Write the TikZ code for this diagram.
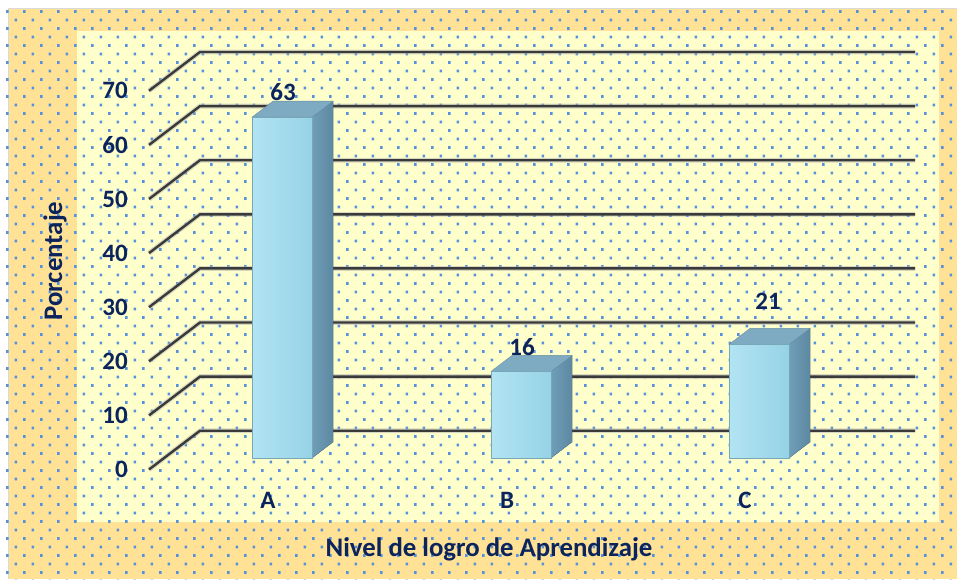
\documentclass[tikz,border=0pt]{standalone}
\usepackage{fontspec}
\setmainfont{Carlito}
\usetikzlibrary{calc}
\definecolor{outerorange}{RGB}{255,226,150}
\definecolor{inneryellow}{RGB}{255,255,204}
\definecolor{dotblue}{RGB}{86,146,220}
\definecolor{navy}{RGB}{12,36,92}
\definecolor{gridgray}{RGB}{58,58,58}
\definecolor{faceA}{RGB}{178,228,243}
\definecolor{faceB}{RGB}{150,210,230}
\definecolor{sideA}{RGB}{112,158,184}
\definecolor{sideB}{RGB}{92,136,162}
\definecolor{topc}{RGB}{126,170,194}
\tikzset{
  axlabel/.style={font=\fontsize{25}{25}\selectfont\bfseries, text=navy, inner sep=0pt},
  vallabel/.style={font=\fontsize{25}{25}\selectfont\bfseries, text=navy, inner sep=0pt},
  titlelabel/.style={font=\fontsize{26.8}{26.8}\selectfont\bfseries, text=navy, inner sep=0pt},
  gridshadow/.style={line width=4.8pt, gray!60, opacity=0.5},
  gridline/.style={line width=2.4pt, gridgray},
  frontface/.style={left color=faceA, right color=faceB, draw=faceB!80!black, line width=0.4pt},
  sideface/.style={left color=sideA, right color=sideB, draw=sideB, line width=0.4pt},
  topface/.style={fill=topc, draw=topc!85!black, line width=0.4pt}
}
\begin{document}
\begin{tikzpicture}[x=1pt,y=-1pt]
\useasboundingbox (0,0) rectangle (957,579);
\fill[white] (0,0) rectangle (957,579);
% outer and inner panels
\fill[outerorange] (8,8) rectangle (957,579);
\draw[gray!30, line width=1pt] (8,579) -- (8,8) -- (957,8);
\fill[inneryellow] (77,31) rectangle (939,522);
% dotted pattern
\fill[dotblue]
  \foreach \r in {0,...,67} {
    \foreach \c in {0,...,56} {
      ({mod(\r,2)*8.5 + \c*17 + 6}, {\r*8.5 + 10}) rectangle ++(2.5,2.8)
    }
  };
% grid lines
\foreach \v [count=\i] in {0,10,...,70} {
  \coordinate (back\i) at (200,{430.7-\v*5.41});
  \coordinate (end\i) at (915,{430.7-\v*5.41});
  \coordinate (front\i) at (149,{469.5-\v*5.41});
  \draw[gridshadow] (front\i) -- (back\i) -- (end\i);
  \draw[gridline] (front\i) -- (back\i) -- (end\i);
  \node[axlabel, anchor=east] (tick\i) at ([xshift=-21pt]front\i) {\v};
}
% bars: front x0, width 60, depth (21,-16), value v
\foreach \name/\x/\v/\lx/\ly in {A/252/63/283/92, B/491/16/522/347, C/729/21/768/301} {
  \pgfmathsetmacro{\top}{458-\v*5.41}
  \coordinate (\name fbl) at (\x,458);
  \coordinate (\name ftr) at ({\x+60},\top);
  \fill[sideface] ({\x+60},458) -- ({\x+81},442) -- ({\x+81},{\top-16}) -- ({\x+60},\top) -- cycle;
  \fill[topface] (\x,\top) -- ({\x+21},{\top-16}) -- ({\x+81},{\top-16}) -- ({\x+60},\top) -- cycle;
  \fill[frontface] (\name fbl) rectangle (\name ftr);
  \node[vallabel] (val\name) at (\lx,\ly) {\v};
}
% category labels
\node[axlabel] (catA) at (268,500) {A};
\node[axlabel] (catB) at (507,500) {B};
\node[axlabel] (catC) at (745,500) {C};
% axis titles
\node[titlelabel, rotate=90] (ytitle) at (55,261) {Porcentaje};
\node[titlelabel] (xtitle) at (489,549) {Nivel de logro de Aprendizaje};
\end{tikzpicture}
\end{document}
